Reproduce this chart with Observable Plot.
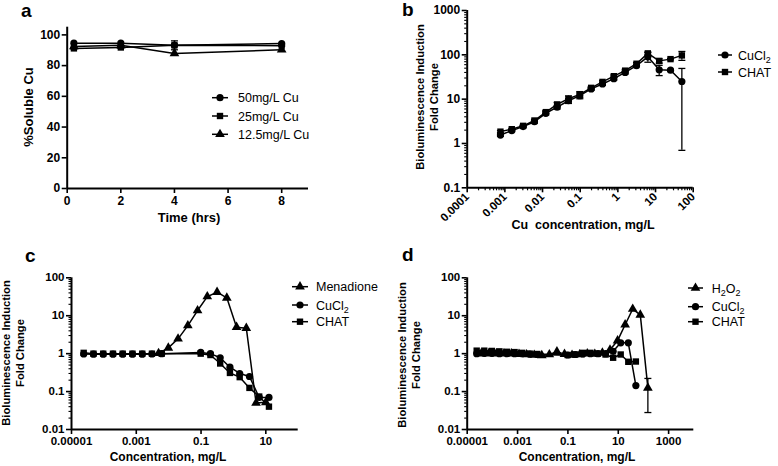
<!DOCTYPE html>
<html>
<head>
<meta charset="utf-8">
<script src="https://cdn.jsdelivr.net/npm/d3@7"></script>
<script src="https://cdn.jsdelivr.net/npm/@observablehq/plot@0.6"></script>
<style>
  html, body { margin: 0; padding: 0; background: #fff; }
  #root { position: relative; width: 778px; height: 466px; overflow: hidden; background: #fff; }
  #root > svg { position: absolute; }
</style>
</head>
<body>
<div id="root"></div>
<script>
// ---------------- DATA ----------------
// Panel a: % soluble Cu over time
const timeHrs = [0.25, 2, 4, 8];
const cu50 = [94.6, 94.6, 93.3, 94.4];
const cu25 = [91.2, 91.8, 93.2, 93.0];
const cu25Sd = [0.4, 0.5, 2.9, 0.4];
const cu125 = [92.5, 93.2, 87.9, 90.3];
const aXTicks = [0, 2, 4, 6, 8];
const aYTicks = [0, 20, 40, 60, 80, 100];
const aLegend = ["50mg/L Cu", "25mg/L Cu", "12.5mg/L Cu"];

// Panel b: bioluminescence vs Cu concentration
const cuConcB = [0.000763, 0.001526, 0.003052, 0.006104, 0.01221, 0.02441, 0.04883, 0.09766, 0.1953, 0.3906, 0.7813, 1.5625, 3.125, 6.25, 12.5, 25, 50];
const cuCl2B = [1.55, 1.95, 2.4, 3.1, 4.8, 6.6, 9.2, 12, 17, 22, 29, 40, 57, 90, 46, 45, 25];
const cuCl2BSd = [0.1, 0.1, 0.1, 0.2, 0.4, 0.6, 1.2, 1.8, 1, 1.5, 2, 3, 3, 22, 12, 2, 24.3];
const chatB = [1.85, 2.1, 2.5, 3.3, 5.1, 7.6, 10.2, 12.8, 18, 24.5, 33, 44, 63, 108, 73, 80, 97];
const chatBSd = [0.1, 0.1, 0.1, 0.2, 0.4, 0.8, 1.6, 2, 1, 1.5, 2, 3, 4, 8, 8, 3, 22];
const bXTicks = [0.0001, 0.001, 0.01, 0.1, 1, 10, 100];
const bXTickLabels = ["0.0001", "0.001", "0.01", "0.1", "1", "10", "100"];
const bYTicks = [0.1, 1, 10, 100, 1000];
const bYTickLabels = ["0.1", "1", "10", "100", "1000"];

// Panel c: Menadione, CuCl2, CHAT
const menadioneConc = [0.00488, 0.00977, 0.0195, 0.0391, 0.0781, 0.156, 0.3125, 0.625, 1.25, 2.5, 5, 10];
const menadione = [1.02, 1.42, 2.46, 5.5, 13.7, 32, 41.7, 29.6, 5.0, 4.7, 0.05, 0.052];
const cuConcC = [2.38e-5, 4.77e-5, 9.54e-5, 1.91e-4, 3.81e-4, 7.63e-4, 0.00153, 0.00305, 0.0061, 0.0977, 0.195, 0.39, 0.78, 1.5625, 3.125, 6.25, 12.5];
const cuCl2C = [0.98, 0.97, 0.97, 0.97, 0.97, 0.97, 0.97, 0.98, 1.0, 1.08, 1.0, 0.78, 0.44, 0.30, 0.25, 0.07, 0.07];
const chatC = [1.05, 1.0, 1.0, 1.0, 1.0, 1.0, 1.0, 1.0, 1.0, 1.0, 0.92, 0.55, 0.31, 0.24, 0.125, 0.074, 0.04];

// Panel d: H2O2, CuCl2, CHAT
const h2o2Conc = [3.58e-5, 7.15e-5, 1.43e-4, 2.86e-4, 5.72e-4, 0.00114, 0.00229, 0.00458, 0.00916, 0.0183, 0.0366, 0.0732, 0.146, 0.293, 0.586, 1.17, 2.34, 4.69, 9.38, 18.75, 37.5, 75, 150];
const h2o2 = [1.0, 1.0, 1.0, 1.0, 1.0, 0.97, 0.95, 0.92, 0.9, 0.95, 1.13, 0.97, 0.92, 0.95, 1.0, 0.98, 1.05, 1.26, 2.2, 5.8, 15, 10.5, 0.125];
const h2o2Sd = [0, 0, 0, 0, 0, 0, 0, 0, 0, 0, 0, 0, 0, 0, 0, 0, 0, 0, 0, 0, 0, 0, 0.097];
const cuConcD = [2.38e-5, 4.77e-5, 9.54e-5, 1.91e-4, 3.81e-4, 7.63e-4, 0.00153, 0.00305, 0.0061, 0.0977, 0.195, 0.39, 0.78, 1.5625, 3.125, 6.25, 12.5, 25, 50];
const cuCl2D = [1.0, 1.02, 1.02, 1.0, 1.0, 1.0, 1.0, 0.97, 0.95, 0.92, 0.95, 0.98, 1.0, 1.0, 1.0, 1.15, 1.93, 1.93, 0.144];
const chatD = [1.2, 1.2, 1.18, 1.15, 1.12, 1.1, 1.05, 1.0, 0.98, 0.92, 0.95, 1.05, 1.05, 1.0, 0.95, 0.78, 0.95, 0.61, 0.62];

const cdYTicks = [0.01, 0.1, 1, 10, 100];
const cdYTickLabels = ["0.01", "0.1", "1", "10", "100"];
const cXTicks = [0.00001, 0.001, 0.1, 10];
const cXTickLabels = ["0.00001", "0.001", "0.1", "10"];
const dXTicks = [0.00001, 0.001, 0.1, 10, 1000];
const dXTickLabels = ["0.00001", "0.001", "0.1", "10", "1000"];

// ---------------- HELPERS ----------------
const FONT = "'Liberation Sans', Arial, Helvetica, sans-serif";
const rows = (xs, ys, sd) => xs.map((x, i) => ({x, y: ys[i], lo: sd ? ys[i] - sd[i] : null, hi: sd ? ys[i] + sd[i] : null, sd: sd ? sd[i] : 0}));
const capSymbol = {draw(ctx, size) { const r = Math.sqrt(size / Math.PI); ctx.moveTo(-r, 0); ctx.lineTo(r, 0); }};
const fmt = (vals, labels) => { const m = new Map(vals.map((v, i) => [v, labels[i]])); return d => m.has(d) ? m.get(d) : ""; };
function minorTicks(lo, hi) {
  const out = [];
  for (let e = Math.round(Math.log10(lo)); e < Math.round(Math.log10(hi)); e++)
    for (let k = 2; k <= 9; k++) out.push(k * Math.pow(10, e));
  return out;
}
const baseStyle = {fontFamily: FONT, fontSize: "12px", fontWeight: "bold", color: "#000", background: "transparent", overflow: "visible"};
const R = 3.6;
const TICKFONT = {fontSize: 12, fontWeight: "bold"};
const TICKFONT_CD = {fontSize: 11.5, fontWeight: "bold"};

function seriesMarks(data, symbol) {
  const withErr = data.filter(d => d.sd > 0);
  return [
    Plot.line(data, {x: "x", y: "y", stroke: "#000", strokeWidth: 1.5}),
    Plot.ruleX(withErr, {x: "x", y1: "lo", y2: "hi", stroke: "#000", strokeWidth: 1.3}),
    Plot.dot(withErr, {x: "x", y: "lo", symbol: capSymbol, r: 3.5, stroke: "#000", strokeWidth: 1.3}),
    Plot.dot(withErr, {x: "x", y: "hi", symbol: capSymbol, r: 3.5, stroke: "#000", strokeWidth: 1.3}),
    Plot.dot(data, {x: "x", y: "y", symbol, r: R, fill: "#000", stroke: "none"})
  ];
}
const minorX = (lo, hi) => Plot.axisX({ticks: minorTicks(lo, hi), tickSize: 3, fill: "none", stroke: "#000", strokeWidth: 1.2, label: null});
const minorY = (lo, hi) => Plot.axisY({ticks: minorTicks(lo, hi), tickSize: 2.5, fill: "none", stroke: "#000", strokeWidth: 1.1, label: null});

const root = document.getElementById("root");
function place(svg, left, top) { svg.style.left = left + "px"; svg.style.top = top + "px"; root.appendChild(svg); }

// ---------------- PANEL A ----------------
const pa = Plot.plot({
  width: 389, height: 235, marginLeft: 66.7, marginRight: 81, marginTop: 26.7, marginBottom: 47,
  style: baseStyle,
  x: {domain: [0, 9]}, y: {domain: [0, 105]},
  marks: [
    Plot.axisX({ticks: aXTicks, tickSize: 5, tickPadding: 3, strokeWidth: 1.6, label: null, ...TICKFONT}),
    Plot.axisY({ticks: aYTicks, tickSize: 5, tickPadding: 2, strokeWidth: 1.6, label: null, ...TICKFONT}),
    Plot.ruleY([0], {stroke: "#000", strokeWidth: 2}),
    Plot.ruleX([0], {stroke: "#000", strokeWidth: 2}),
    ...seriesMarks(rows(timeHrs, cu50), "circle"),
    ...seriesMarks(rows(timeHrs, cu25, cu25Sd), "square"),
    ...seriesMarks(rows(timeHrs, cu125), "triangle")
  ]
});
place(pa, 0, 0);

// ---------------- PANEL B ----------------
const pb = Plot.plot({
  width: 389, height: 240, marginLeft: 77.7, marginRight: 85.3, marginTop: 10, marginBottom: 52.7,
  style: baseStyle,
  x: {type: "log", domain: [0.0001, 100]}, y: {type: "log", domain: [0.1, 1000]},
  marks: [
    minorX(0.0001, 100),
    Plot.axisX({ticks: bXTicks, tickFormat: fmt(bXTicks, bXTickLabels), tickSize: 5, tickPadding: 2, tickRotate: -45, strokeWidth: 1.6, label: null, fontSize: 11.5, fontWeight: "bold"}),
    minorY(0.1, 1000),
    Plot.axisY({ticks: bYTicks, tickFormat: fmt(bYTicks, bYTickLabels), tickSize: 5, tickPadding: 2, strokeWidth: 1.6, label: null, ...TICKFONT}),
    Plot.ruleY([0.1], {stroke: "#000", strokeWidth: 2}),
    Plot.ruleX([0.0001], {stroke: "#000", strokeWidth: 2}),
    ...seriesMarks(rows(cuConcB, cuCl2B, cuCl2BSd), "circle"),
    ...seriesMarks(rows(cuConcB, chatB, chatBSd), "square")
  ]
});
place(pb, 389, 0);

// ---------------- PANEL C ----------------
const pc = Plot.plot({
  width: 389, height: 231, marginLeft: 71, marginRight: 91.3, marginTop: 42.3, marginBottom: 37,
  style: baseStyle,
  x: {type: "log", domain: [0.00001, 100]}, y: {type: "log", domain: [0.01, 100]},
  marks: [
    Plot.axisX({ticks: cXTicks, tickFormat: fmt(cXTicks, cXTickLabels), tickSize: 5, tickPadding: 2, strokeWidth: 1.6, label: null, ...TICKFONT_CD}),
    minorY(0.01, 100),
    Plot.axisY({ticks: cdYTicks, tickFormat: fmt(cdYTicks, cdYTickLabels), tickSize: 5, tickPadding: 2, strokeWidth: 1.6, label: null, ...TICKFONT_CD}),
    Plot.ruleY([0.01], {stroke: "#000", strokeWidth: 2}),
    Plot.ruleX([0.00001], {stroke: "#000", strokeWidth: 2}),
    ...seriesMarks(rows(menadioneConc, menadione), "triangle"),
    ...seriesMarks(rows(cuConcC, cuCl2C), "circle"),
    ...seriesMarks(rows(cuConcC, chatC), "square")
  ]
});
place(pc, 0, 235);

// ---------------- PANEL D ----------------
const pd = Plot.plot({
  width: 389, height: 231, marginLeft: 77.7, marginRight: 84.7, marginTop: 42.3, marginBottom: 37,
  style: baseStyle,
  x: {type: "log", domain: [0.00001, 10000]}, y: {type: "log", domain: [0.01, 100]},
  marks: [
    Plot.axisX({ticks: dXTicks, tickFormat: fmt(dXTicks, dXTickLabels), tickSize: 5, tickPadding: 2, strokeWidth: 1.6, label: null, ...TICKFONT_CD}),
    minorY(0.01, 100),
    Plot.axisY({ticks: cdYTicks, tickFormat: fmt(cdYTicks, cdYTickLabels), tickSize: 5, tickPadding: 2, strokeWidth: 1.6, label: null, ...TICKFONT_CD}),
    Plot.ruleY([0.01], {stroke: "#000", strokeWidth: 2}),
    Plot.ruleX([0.00001], {stroke: "#000", strokeWidth: 2}),
    ...seriesMarks(rows(h2o2Conc, h2o2, h2o2Sd), "triangle"),
    ...seriesMarks(rows(cuConcD, cuCl2D), "circle"),
    ...seriesMarks(rows(cuConcD, chatD), "square")
  ]
});
place(pd, 389, 235);

// ---------------- TEXT OVERLAY (letters, axis titles, legends) ----------------
const ov = d3.create("svg").attr("width", 778).attr("height", 466)
  .style("left", "0px").style("top", "0px").style("pointer-events", "none")
  .attr("font-family", FONT);

[["a", 21, 17], ["b", 402, 16], ["c", 25, 262], ["d", 402, 261]].forEach(([t, x, y]) =>
  ov.append("text").attr("x", x).attr("y", y).attr("font-size", 19).attr("font-weight", "bold").text(t));

function yLabel(lines, xs, cy, size) {
  lines.forEach((t, i) => ov.append("text").attr("transform", `translate(${xs[i]},${cy}) rotate(-90)`)
    .attr("text-anchor", "middle").attr("font-size", size).attr("font-weight", "bold").text(t));
}
yLabel(["%Soluble Cu"], [33], 107, 13);
yLabel(["Bioluminescence Induction", "Fold Change"], [424, 437.5], 97, 11.2);
yLabel(["Bioluminescence Induction", "Fold Change"], [10, 23.5], 353, 11.2);
yLabel(["Bioluminescence Induction", "Fold Change"], [406, 420], 355, 11.2);

function xLabel(t, cx, y, size) {
  ov.append("text").attr("x", cx).attr("y", y).attr("text-anchor", "middle").attr("font-size", size)
    .attr("font-weight", "bold").attr("xml:space", "preserve").style("white-space", "pre").text(t);
}
xLabel("Time (hrs)", 189, 222, 13);
xLabel("Cu  concentration, mg/L", 583, 229, 12.5);
xLabel("Concentration, mg/L", 168, 461, 12);
xLabel("Concentration, mg/L", 577, 461, 12);

const symPath = {circle: d3.symbolCircle, square: d3.symbolSquare, triangle: d3.symbolTriangle};
function legend(x0, x1, tx, ys, syms, labels) {
  ys.forEach((y, i) => {
    ov.append("line").attr("x1", x0).attr("x2", x1).attr("y1", y).attr("y2", y).attr("stroke", "#000").attr("stroke-width", 1.5);
    ov.append("path").attr("transform", `translate(${(x0 + x1) / 2},${y})`)
      .attr("d", d3.symbol(symPath[syms[i]], R * R * Math.PI)()).attr("fill", "#000");
    const t = ov.append("text").attr("x", tx).attr("y", y + 4.5).attr("font-size", 12.5);
    let shifted = false;
    labels[i].forEach(([s, sub]) => {
      const sp = t.append("tspan").text(s);
      if (sub) { sp.attr("font-size", 9).attr("dy", 3); shifted = true; }
      else if (shifted) { sp.attr("dy", -3); shifted = false; }
    });
  });
}
legend(212, 228, 238, [97.7, 116, 134.3], ["circle", "square", "triangle"], aLegend.map(s => [[s]]));
legend(718, 732, 738, [55, 72], ["circle", "square"], [[["CuCl"], ["2", true]], [["CHAT"]]]);
legend(292, 308, 316, [286.7, 305, 321.7], ["triangle", "circle", "square"], [[["Menadione"]], [["CuCl"], ["2", true]], [["CHAT"]]]);
legend(688, 703, 711.7, [288, 306.7, 321.7], ["triangle", "circle", "square"], [[["H"], ["2", true], ["O"], ["2", true]], [["CuCl"], ["2", true]], [["CHAT"]]]);

root.appendChild(ov.node());
</script>
</body>
</html>
